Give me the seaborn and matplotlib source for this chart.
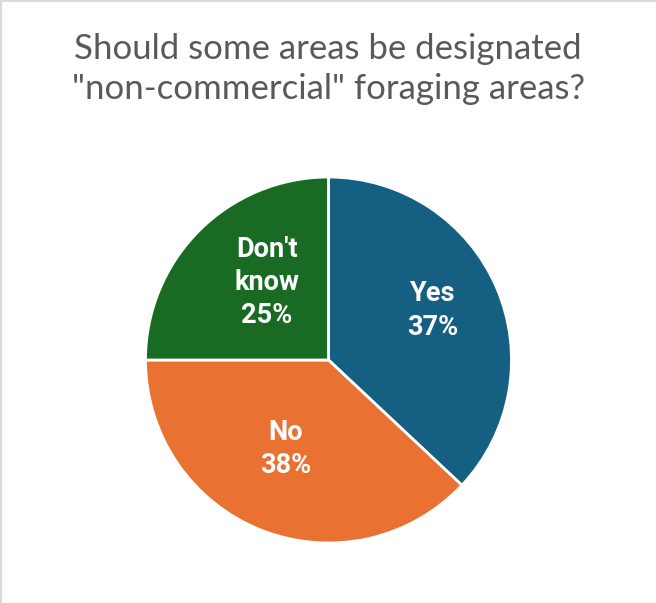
import matplotlib
matplotlib.use("Agg")
import matplotlib.pyplot as plt
from matplotlib.lines import Line2D
import numpy as np
import seaborn as sns

# Survey answers and their shares (%)
categories = ["Yes", "No", "Don't\nknow"]
shares = [37, 38, 25]
colors = ["#156082", "#E97132", "#196B24"]
title = 'Should some areas be designated\n"non-commercial" foraging areas?'

sns.set_theme(style="white")
plt.rcParams["font.family"] = ["Lato", "DejaVu Sans"]

W, H = 656, 603
fig = plt.figure(figsize=(W / 100, H / 100), dpi=100)

# Square axes holding the pie
cx, cy, r = 328.5, 360, 183
ax = fig.add_axes([(cx - r) / W, (H - cy - r) / H, 2 * r / W, 2 * r / H])

wedges, _ = ax.pie(
    shares,
    colors=colors,
    startangle=90,
    counterclock=False,
    radius=1,
    wedgeprops=dict(edgecolor="white", linewidth=2, clip_on=False),
)
ax.set_xlim(-1, 1)
ax.set_ylim(-1, 1)
ax.set_aspect("equal")
ax.axis("off")

# Labels inside each slice: name + percentage
label_radius = [0.63, 0.54, 0.54]
label_shift = [2.0, -4.0, -6.5]
for w, cat, val, rr, dth in zip(wedges, categories, shares, label_radius, label_shift):
    mid = np.deg2rad((w.theta1 + w.theta2) / 2 + dth)
    ax.text(rr * np.cos(mid), rr * np.sin(mid), f"{cat}\n{val}%",
            ha="center", va="center", color="white", fontsize=19.5,
            fontweight="bold", family=["Roboto", "DejaVu Sans"],
            linespacing=1.3)

fig.text(0.5, 1 - 69 / H, title, ha="center", va="center",
         fontsize=25, color="#595959", linespacing=1.3)

# Thin frame along the top and left edges
fig.add_artist(Line2D([0, 1], [1 - 1 / H, 1 - 1 / H], transform=fig.transFigure,
                      color="#d9d9d9", linewidth=1.5))
fig.add_artist(Line2D([1 / W, 1 / W], [0, 1], transform=fig.transFigure,
                      color="#d9d9d9", linewidth=1.5))

fig.savefig("out.png", dpi=100, facecolor="white")
